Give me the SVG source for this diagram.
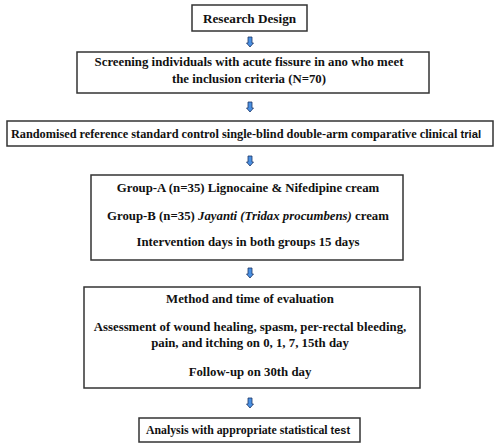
<svg xmlns="http://www.w3.org/2000/svg" width="500" height="448" viewBox="0 0 500 448">
<defs>
<style>
.box{fill:#fff;stroke:#333;stroke-width:1.5}
.t{font-family:"Liberation Serif","Times New Roman",serif;font-weight:bold;font-size:12.8px;fill:#111;text-anchor:middle}
.s{font-family:"Liberation Sans",Arial,sans-serif;font-weight:bold}
.i{font-style:italic}
.arr{fill:#4a90e2;stroke:#1d3566;stroke-width:0.8}
</style>
<path id="ar" d="M-2,0 H2 V6 H3.5 L0,10 L-3.5,6 H-2 Z"/>
</defs>
<rect width="500" height="448" fill="#fff"/>
<g id="connectors">
<use href="#ar" class="arr" x="250" y="37"/>
<use href="#ar" class="arr" x="250" y="102"/>
<use href="#ar" class="arr" x="250" y="156"/>
<use href="#ar" class="arr" x="250" y="268"/>
<use href="#ar" class="arr" x="250" y="398"/>
</g>
<g id="n1">
<rect class="box" x="192" y="5" width="115" height="26"/>
<text class="t" x="249.5" y="22.5" style="font-size:13.2px">Research Design</text>
</g>
<g id="n2">
<rect class="box" x="77" y="52" width="352" height="41"/>
<text class="t" x="249" y="66">Screening individuals with acute fissure in ano who meet</text>
<text class="t" x="249" y="83">the inclusion criteria (N=70)</text>
</g>
<g id="n3">
<rect class="box" x="7" y="121" width="486" height="25"/>
<text class="t" x="246" y="138" style="font-size:12.3px">Randomised reference standard control single-blind double-arm comparative clinical <tspan class="s" style="font-size:11.3px">trial</tspan></text>
</g>
<g id="n4">
<rect class="box" x="91" y="175" width="312" height="85"/>
<text class="t" x="248" y="192">Group-A (n=35) Lignocaine &amp; Nifedipine cream</text>
<text class="t" x="248" y="220">Group-B (n=35) <tspan class="i">Jayanti (Tridax procumbens)</tspan> cream</text>
<text class="t" x="248" y="246">Intervention days in both groups 15 days</text>
</g>
<g id="n5">
<rect class="box" x="84" y="287" width="336" height="101"/>
<text class="t" x="250" y="303">Method and time of evaluation</text>
<text class="t" x="250" y="331">Assessment of wound healing, spasm, per-rectal bleeding,</text>
<text class="t" x="250" y="347">pain, and itching on 0, 1, 7, 15th day</text>
<text class="t" x="250" y="376">Follow-up on 30th day</text>
</g>
<g id="n6">
<rect class="box" x="139" y="418" width="221" height="24"/>
<text class="t" x="248" y="434" style="font-size:11.8px">Analysis with appropriate statistical <tspan class="s" style="font-size:11px">test</tspan></text>
</g>
</svg>
